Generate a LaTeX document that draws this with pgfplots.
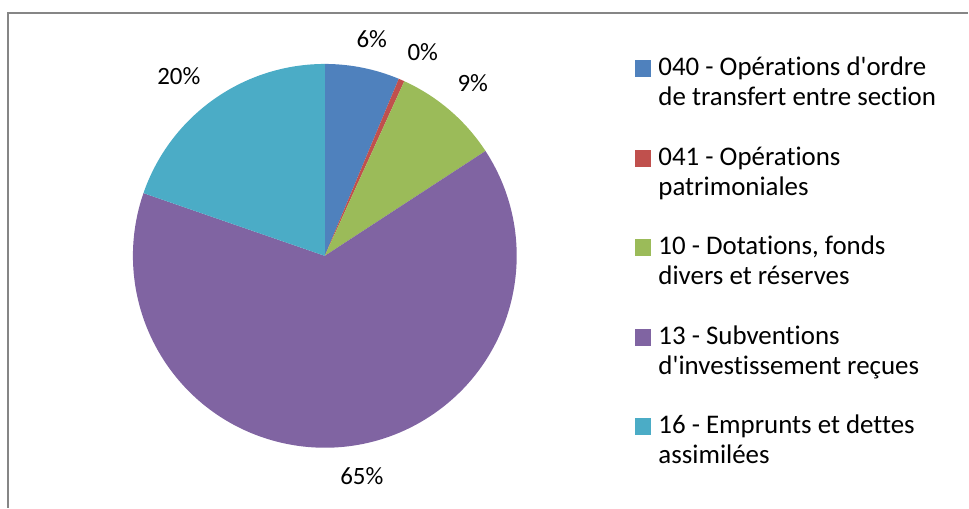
\documentclass[border=0pt]{standalone}
\usepackage{pgfplots}
\pgfplotsset{compat=1.18}
\usepackage{pgfplotstable}
\usepackage{fontspec}
\setmainfont{Carlito}[Ligatures={TeXOff,CommonOff}]

\definecolor{c1}{HTML}{4F81BD}
\definecolor{c2}{HTML}{C0504D}
\definecolor{c3}{HTML}{9BBB59}
\definecolor{c4}{HTML}{8064A2}
\definecolor{c5}{HTML}{4BACC6}
\definecolor{framegray}{HTML}{868686}

\pgfplotsset{sq legend/.style={legend image code/.code={\fill[##1] (0bp,5bp) rectangle (16.7bp,21.7bp);}}}

\pgfplotstableread{
idx value
0 6.3
1 0.5
2 9.0
3 64.5
4 19.7
}\piedata

\begin{document}
\begin{tikzpicture}
\pgfmathsetmacro{\angA}{90}
\pgfplotstablegetelem{0}{value}\of\piedata \pgfmathsetmacro{\angB}{\angA-3.6*\pgfplotsretval}
\pgfplotstablegetelem{1}{value}\of\piedata \pgfmathsetmacro{\angC}{\angB-3.6*\pgfplotsretval}
\pgfplotstablegetelem{2}{value}\of\piedata \pgfmathsetmacro{\angD}{\angC-3.6*\pgfplotsretval}
\pgfplotstablegetelem{3}{value}\of\piedata \pgfmathsetmacro{\angE}{\angD-3.6*\pgfplotsretval}
\pgfplotstablegetelem{4}{value}\of\piedata \pgfmathsetmacro{\angF}{\angE-3.6*\pgfplotsretval}
\begin{axis}[
  width=969bp, height=508bp, scale only axis,
  xmin=0, xmax=969, ymin=0, ymax=508,
  hide axis, clip=false,
  legend style={at={(632/969,453/508)}, anchor=north west, draw=none, fill=none,
    font=\fontsize{27}{30}\selectfont,
    cells={anchor=west, align=left},
    nodes={inner sep=0pt},
    row sep=39.5bp,
    /tikz/every odd column/.append style={column sep=7bp}},
]
\path (axis cs:0,0) rectangle (axis cs:969,508);
\draw[framegray, line width=1.2bp] (axis cs:8,0) -- (axis cs:8,495) -- (axis cs:969,495);
\fill[c1] (axis cs:325,252) -- ++(\angA:192bp) arc[start angle=\angA, end angle=\angB, radius=192bp] -- cycle;
\fill[c2] (axis cs:325,252) -- ++(\angB:192bp) arc[start angle=\angB, end angle=\angC, radius=192bp] -- cycle;
\fill[c3] (axis cs:325,252) -- ++(\angC:192bp) arc[start angle=\angC, end angle=\angD, radius=192bp] -- cycle;
\fill[c4] (axis cs:325,252) -- ++(\angD:192bp) arc[start angle=\angD, end angle=\angE, radius=192bp] -- cycle;
\fill[c5] (axis cs:325,252) -- ++(\angE:192bp) arc[start angle=\angE, end angle=\angF, radius=192bp] -- cycle;
\begin{scope}[font=\fontsize{25}{30}\selectfont]
\node at (axis cs:372,469) {6\%};
\node at (axis cs:423,456) {0\%};
\node at (axis cs:473,425) {9\%};
\node at (axis cs:362,32) {65\%};
\node at (axis cs:179,432) {20\%};
\end{scope}
\addlegendimage{sq legend, fill=c1, draw=none}
\addlegendentry{040 - Opérations d'ordre\\de transfert entre section}
\addlegendimage{sq legend, fill=c2, draw=none}
\addlegendentry{041 - Opérations\\patrimoniales}
\addlegendimage{sq legend, fill=c3, draw=none}
\addlegendentry{10 - Dotations, fonds\\divers et réserves}
\addlegendimage{sq legend, fill=c4, draw=none}
\addlegendentry{13 - Subventions\\d'investissement reçues}
\addlegendimage{sq legend, fill=c5, draw=none}
\addlegendentry{16 - Emprunts et dettes\\assimilées}
\end{axis}
\end{tikzpicture}
\end{document}
